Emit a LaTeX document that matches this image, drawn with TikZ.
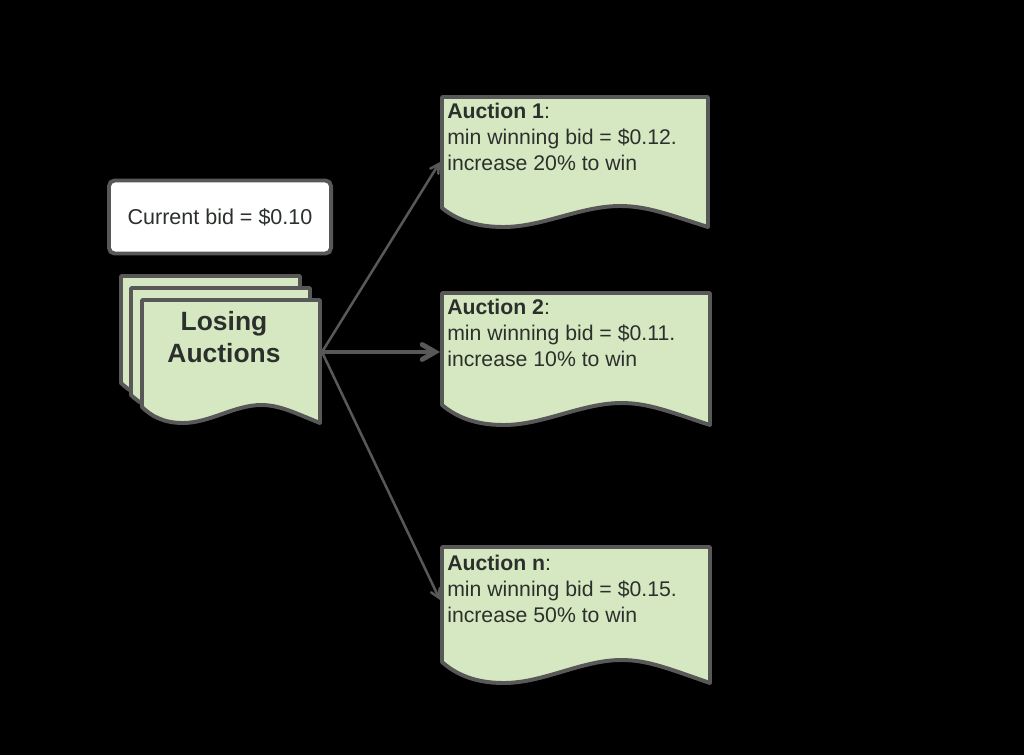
\documentclass[tikz,border=0pt]{standalone}
\usepackage{fontspec}
\setmainfont{Liberation Sans}
\usetikzlibrary{arrows}
\definecolor{docgreen}{RGB}{214,232,194}
\definecolor{edgegray}{RGB}{88,88,88}
\definecolor{inkgray}{RGB}{44,48,44}
\tikzset{
  docline/.style={draw=edgegray,line width=2.8pt,fill=docgreen,line join=round},
  doctext/.style={anchor=north west,inner sep=0pt,align=left,text=inkgray,
    font=\fontsize{15.1}{18.5}\selectfont},
  bidbox/.style={draw=edgegray,line width=2.8pt,fill=white,rounded corners=4pt,
    minimum width=5.55cm,minimum height=1.825cm,text=inkgray,
    font=\fontsize{15.3}{18.5}\selectfont},
  link/.style={draw=edgegray,line width=1.8pt,->,>=angle 60}
}
% document shape: x0, top, x1, bottom (right corner), wave height
\newcommand{\docpath}[5]{%
  \draw[docline] (#1,#4-#5+2) -- (#1,#2) -- (#3,#2) -- (#3,#4)
    .. controls ({#1+0.85*(#3-#1)},#4-0.6*#5) and ({#1+0.77*(#3-#1)},#4-#5) .. ({#1+0.67*(#3-#1)},#4-#5)
    .. controls ({#1+0.52*(#3-#1)},#4-#5) and ({#1+0.38*(#3-#1)},#4) .. ({#1+0.23*(#3-#1)},#4)
    .. controls ({#1+0.12*(#3-#1)},#4) and ({#1+0.05*(#3-#1)},#4-0.4*#5) .. (#1,#4-#5+2) -- cycle;
}
\begin{document}
\begin{tikzpicture}[x=0.025cm,y=-0.025cm]
\fill[black] (0,0) rectangle (1024,755);

\node[bidbox] (bid) at (220,217) {Current bid = \$0.10};

% losing auctions stack
\docpath{121}{276}{300}{399}{18}
\docpath{131}{288}{310}{411}{18}
\docpath{142}{300}{320}{423}{18}
\node[align=center,inner sep=0pt,text=inkgray,font=\fontsize{18.8}{22.7}\selectfont\bfseries]
  (losing) at (224,337) {Losing\\Auctions};

% auctions
\docpath{442}{97}{708}{227}{21}
\docpath{442}{293}{710}{425}{22}
\docpath{442}{547}{710}{683}{23}
\node[doctext] (auc1) at (447,103) {\textbf{Auction 1}:\\min winning bid = \$0.12.\\increase 20\% to win};
\node[doctext] (auc2) at (447,299) {\textbf{Auction 2}:\\min winning bid = \$0.11.\\increase 10\% to win};
\node[doctext] (aucn) at (447,555) {\textbf{Auction n}:\\min winning bid = \$0.15.\\increase 50\% to win};

\coordinate (lout) at (322,352);
\coordinate (in1) at (440,162);
\coordinate (in2) at (440,352);
\coordinate (inn) at (440,600);
\draw[link] (lout) -- (in1);
\draw[link,line width=3.5pt] (lout) -- (in2);
\draw[link] (lout) -- (inn);
\end{tikzpicture}
\end{document}
